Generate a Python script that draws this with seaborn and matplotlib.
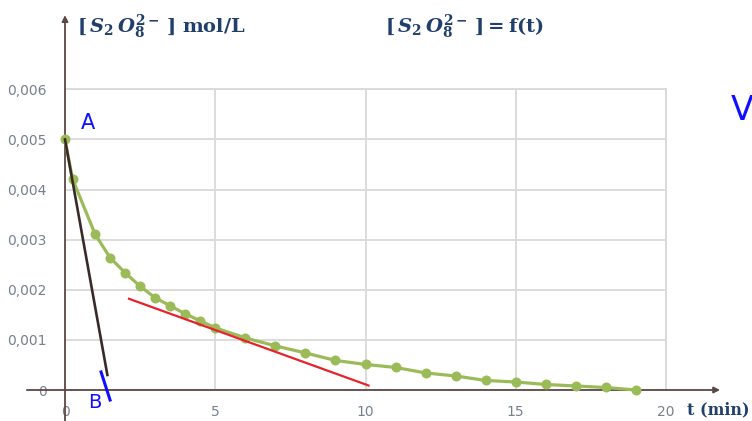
import matplotlib
matplotlib.use("Agg")
import matplotlib.pyplot as plt
import seaborn as sns
import pandas as pd
from matplotlib.ticker import FuncFormatter

# ---- data ----
t_min = [0, 0.25, 1, 1.5, 2, 2.5, 3, 3.5, 4, 4.5, 5, 6, 7, 8, 9, 10,
         11, 12, 13, 14, 15, 16, 17, 18, 19]
conc = [0.0050, 0.00421, 0.00311, 0.00264, 0.00234, 0.00207, 0.00184,
        0.00168, 0.00152, 0.00138, 0.00124, 0.00104, 0.00088, 0.00074,
        0.00059, 0.00051, 0.00045, 0.00034, 0.00028, 0.00019, 0.00016,
        0.00011, 0.00008, 0.00005, 0.0]

# tangent at origin (A -> B)
tan0_t = [0, 1.41]
tan0_c = [0.0050, 0.00030]
# tangent near t = 5 min
tan5_t = [2.13, 10.1]
tan5_c = [0.00182, 0.00009]
# handwritten tick mark at B
markB_t = [1.2, 1.5]
markB_c = [0.00036, -0.00020]

x_ticks = [0, 5, 10, 15, 20]
y_ticks = [0, 0.001, 0.002, 0.003, 0.004, 0.005, 0.006]

ylabel_txt = r"$[\,S_2\,O_8^{2-}\,]$ mol/L"
title_txt = r"$[\,S_2\,O_8^{2-}\,] = $f(t)"
xlabel_txt = "t (min)"

# ---- style ----
plt.rcParams['mathtext.fontset'] = 'custom'
plt.rcParams['mathtext.it'] = 'DejaVu Serif:italic:bold'
plt.rcParams['mathtext.rm'] = 'DejaVu Serif:bold'
plt.rcParams['mathtext.bf'] = 'DejaVu Serif:bold'

W, H = 752, 421
fig = plt.figure(figsize=(W / 100, H / 100), dpi=100)
fig.patch.set_facecolor('white')

x0_px, x20_px = 65, 666
y0_px, y6_px = 390, 89.3
ax = fig.add_axes([x0_px / W, (H - y0_px) / H, (x20_px - x0_px) / W, (y0_px - y6_px) / H])
ax.set_xlim(0, 20)
ax.set_ylim(0, 0.006)
ax.set_facecolor('white')

grid_c = '#d9d9d9'
ax.set_xticks(x_ticks)
ax.set_yticks(y_ticks)
ax.grid(True, color=grid_c, lw=1.3)
ax.set_axisbelow(True)
for s in ['left', 'bottom']:
    ax.spines[s].set_visible(False)
for s in ['top', 'right']:
    ax.spines[s].set_color(grid_c)
    ax.spines[s].set_linewidth(1.3)

lab_c = '#76808f'
ax.tick_params(length=0, labelsize=10, labelcolor=lab_c)
ax.tick_params(axis='y', pad=13)
ax.tick_params(axis='x', pad=11)
ax.yaxis.set_major_formatter(FuncFormatter(lambda v, p: '0' if v == 0 else f"{v:.3f}".replace('.', ',')))
ax.xaxis.set_major_formatter(FuncFormatter(lambda v, p: f"{v:.0f}"))

# axis arrows
axis_c = '#5a4843'
ax.annotate('', xy=(0, 0.00748), xytext=(0, -0.00062), annotation_clip=False,
            arrowprops=dict(arrowstyle='-|>', color=axis_c, lw=1.3, mutation_scale=9,
                            shrinkA=0, shrinkB=0))
ax.annotate('', xy=(21.8, 0), xytext=(-1.27, 0), annotation_clip=False,
            arrowprops=dict(arrowstyle='-|>', color=axis_c, lw=1.3, mutation_scale=9,
                            shrinkA=0, shrinkB=0))

# data curve
df = pd.DataFrame({'t': t_min, 'c': conc})
sns.lineplot(data=df, x='t', y='c', ax=ax, color='#9bbb59', lw=2.3, marker='o',
             markersize=7.2, markeredgewidth=0, clip_on=False, zorder=4)

# tangents
sns.lineplot(x=tan0_t, y=tan0_c, ax=ax, color='#3a2a27', lw=1.9, zorder=5, clip_on=False)
sns.lineplot(x=tan5_t, y=tan5_c, ax=ax, color='#e8222b', lw=1.6, zorder=5)

ax.set_xlabel('')
ax.set_ylabel('')

# texts
blue_t = '#213f6c'
fig.text(77 / W, 1 - 27 / H, ylabel_txt, fontsize=14, color=blue_t,
         family='DejaVu Serif', weight='bold', va='center', ha='left')
fig.text(385 / W, 1 - 27 / H, title_txt, fontsize=14, color=blue_t,
         family='DejaVu Serif', weight='bold', va='center', ha='left')
fig.text(687 / W, 1 - 410 / H, xlabel_txt, fontsize=11.5, color=blue_t,
         family='DejaVu Serif', weight='bold', va='center', ha='left')

# handwritten annotations
hand_c = '#1010ff'
fig.text(88 / W, 1 - 123 / H, 'A', fontsize=15, color=hand_c, ha='center', va='center',
         family='DejaVu Sans')
fig.text(95 / W, 1 - 403 / H, 'B', fontsize=14, color=hand_c, ha='center', va='center',
         family='DejaVu Sans')
sns.lineplot(x=markB_t, y=markB_c, ax=ax, color=hand_c, lw=2.2, zorder=6, clip_on=False)
fig.text(742 / W, 1 - 110 / H, 'V', fontsize=24, color=hand_c, ha='center', va='center',
         family='DejaVu Sans')

fig.savefig('out.png', dpi=100)
